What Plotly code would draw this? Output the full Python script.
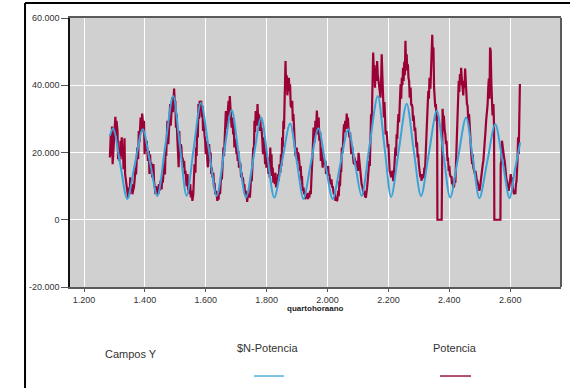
import plotly.graph_objects as go

# ---- Data ----
pred_x = [1285, 1296, 1319, 1342, 1367, 1393, 1417, 1441, 1467, 1493, 1515, 1537,
          1560, 1584, 1610, 1636, 1660, 1685, 1708, 1732, 1757, 1782, 1803, 1825,
          1851, 1877, 1899, 1921, 1945, 1970, 1993, 2017, 2042, 2068, 2090, 2112,
          2138, 2165, 2187, 2209, 2234, 2260, 2283, 2307, 2333, 2359, 2381, 2403,
          2429, 2455, 2477, 2499, 2525, 2551, 2575, 2598, 2616, 2633]
pred_y = [25000, 27200, 16500, 6200, 16500, 26900, 17000, 7100, 22000, 36800, 22000, 7100,
          21000, 34800, 21000, 7100, 20000, 32600, 19600, 6600, 18500, 30400, 18500, 6600,
          17500, 28600, 17400, 6200, 16700, 27200, 16700, 6200, 16500, 26900, 17000, 7100,
          22000, 36800, 21800, 6800, 20600, 34500, 20800, 7100, 19800, 32400, 19500, 6600,
          18500, 30400, 18500, 6400, 17400, 28400, 17400, 6400, 15000, 23000]

pot_x = [1285, 1288, 1290, 1292, 1294, 1297, 1300, 1303, 1305, 1307, 1310, 1312, 1314, 1316, 1318,
         1320, 1322, 1324, 1326, 1328, 1330, 1333, 1335, 1338, 1340, 1343, 1345, 1347, 1350, 1352,
         1354, 1357, 1359, 1362, 1364, 1367, 1369, 1371, 1373, 1375, 1378, 1380, 1382, 1384, 1386,
         1389, 1391, 1393, 1395, 1397, 1399, 1402, 1404, 1406, 1408, 1410, 1413, 1415, 1417, 1419,
         1421, 1424, 1426, 1428, 1430, 1432, 1435, 1437, 1439, 1441, 1444, 1446, 1448, 1450, 1452,
         1455, 1457, 1459, 1461, 1463, 1466, 1468, 1470, 1472, 1474, 1477, 1479, 1481, 1483, 1485,
         1488, 1490, 1492, 1494, 1496, 1498, 1500, 1502, 1504, 1506, 1508, 1511, 1513, 1515, 1518,
         1520, 1522, 1524, 1527, 1529, 1531, 1533,
         1535, 1537, 1540, 1542, 1545, 1547, 1549, 1551, 1554, 1556, 1559, 1561, 1563, 1566, 1568,
         1570, 1572, 1574, 1576, 1578, 1580, 1582, 1585, 1587, 1589, 1591, 1593, 1596, 1598, 1600,
         1603, 1605, 1607, 1609, 1611, 1614, 1616, 1618, 1620, 1622, 1625, 1627, 1629, 1631, 1634,
         1636, 1638, 1640, 1642, 1644, 1647, 1649, 1651, 1653, 1655, 1658, 1660, 1662, 1664, 1666,
         1668, 1671, 1673, 1675, 1677, 1679, 1681, 1683, 1685, 1688, 1690, 1692, 1694, 1696, 1698,
         1701, 1703, 1705, 1707, 1709, 1712, 1714, 1716, 1718, 1720, 1722, 1725, 1727, 1729, 1731,
         1734, 1736, 1738, 1740, 1743, 1745, 1747, 1749, 1751, 1754, 1756, 1758, 1760, 1762, 1764,
         1766, 1768, 1770, 1772, 1775, 1777, 1779, 1781, 1783, 1786, 1788, 1790, 1792, 1795, 1797,
         1799, 1801, 1803, 1806, 1808,
         1810, 1812, 1814, 1816, 1818, 1820, 1822, 1824, 1827, 1829, 1831, 1834, 1836, 1838, 1840,
         1842, 1845, 1847, 1849, 1851, 1853, 1855, 1857, 1860, 1862, 1864, 1866, 1868, 1871, 1873,
         1875, 1877, 1879, 1882, 1884, 1886, 1888, 1890, 1892, 1894, 1897, 1899, 1901, 1903, 1905,
         1907, 1910, 1912, 1914, 1916, 1918, 1921, 1923, 1925, 1927, 1929, 1932, 1934, 1936, 1938,
         1940, 1943, 1945, 1947, 1949, 1951, 1954, 1956, 1958, 1960, 1962, 1965, 1967, 1969, 1971,
         1973, 1976, 1978, 1980, 1982, 1984, 1987, 1989, 1991, 1993, 1995, 1998, 2000, 2002, 2004,
         2006, 2009, 2011, 2013, 2015, 2017, 2019, 2021, 2024, 2026, 2028, 2030, 2032, 2035, 2037,
         2039, 2041, 2043, 2045, 2047, 2050, 2052, 2054, 2056, 2058, 2061, 2063, 2065, 2067, 2069,
         2072, 2074, 2076, 2078, 2080, 2083, 2085, 2087, 2089, 2091, 2094, 2096, 2098, 2100, 2102,
         2104, 2106, 2108, 2110, 2112, 2115, 2117, 2119, 2121, 2123, 2126, 2128, 2130, 2132, 2134,
         2137, 2139, 2141, 2143, 2145, 2147, 2149, 2150, 2152, 2154, 2156, 2158, 2160, 2163, 2165,
         2167, 2169, 2172, 2174, 2176, 2178, 2180, 2182, 2185, 2187, 2189, 2191, 2194, 2196, 2198,
         2200, 2202, 2204, 2207, 2209, 2211, 2213, 2216, 2218, 2220, 2223, 2225, 2227, 2229, 2231,
         2233, 2235, 2238, 2240, 2242, 2244, 2246, 2248, 2250, 2252, 2254, 2256, 2258, 2260, 2262,
         2264, 2266, 2268, 2270, 2273, 2275, 2277, 2279, 2281, 2283, 2286, 2288, 2290, 2292, 2294,
         2296, 2298, 2300, 2303, 2305, 2307, 2309, 2311, 2313, 2316, 2318, 2320, 2322, 2324, 2327,
         2329, 2331, 2333, 2335, 2338, 2340, 2342, 2344, 2346, 2348, 2350, 2352, 2354, 2356, 2358,
         2360, 2361, 2375, 2376, 2378, 2380, 2382, 2385, 2387, 2389, 2391, 2394, 2396, 2398, 2400,
         2402, 2405, 2407, 2409, 2411, 2413, 2416, 2418, 2420, 2422, 2424, 2427, 2429, 2431, 2433,
         2435, 2437, 2439, 2441, 2444, 2446, 2448, 2450, 2452, 2454, 2456, 2458, 2460, 2463, 2465,
         2467, 2469, 2471, 2473, 2475, 2477, 2479, 2482, 2484, 2486, 2488, 2490, 2492, 2495, 2497,
         2499, 2501, 2503, 2505, 2508, 2510, 2512, 2514, 2517, 2519, 2521, 2524, 2526, 2528, 2530,
         2532, 2534, 2536, 2538, 2540, 2542, 2545, 2547, 2548, 2568, 2569, 2571, 2573, 2575, 2578,
         2580, 2582, 2584, 2587, 2589, 2591, 2593, 2595, 2597, 2599, 2602, 2604, 2606, 2608, 2610,
         2613, 2615, 2617, 2619, 2621, 2624, 2626, 2628, 2630, 2632]
pot_y = [18500, 25500, 19000, 27700, 16500, 22000, 27000, 30600, 25000, 29400, 26400, 18000, 21000, 17500, 19500,
         23500, 19000, 24500, 18000, 21000, 15000, 24200, 13600, 11600, 9600, 7000, 6600, 9600, 7600, 12600,
         8600, 10600, 7600, 9000, 9600, 12500, 15600, 13500, 19500, 21500, 18000, 26400, 23000, 27400, 30400,
         26000, 31600, 29400, 26400, 29400, 19500, 24000, 20500, 23500, 19500, 17500, 20500, 13600, 19500, 15500,
         17000, 12600, 14500, 16600, 11600, 9600, 7600, 10000, 8600, 9600, 7600, 10600, 8600, 10600, 11600,
         9000, 12600, 11000, 14600, 16500, 13500, 21500, 19000, 25400, 29400, 22500, 26400, 31000, 34400, 28000,
         35000, 36400, 32000, 38400, 39000, 35000, 35400, 27400, 31500, 25400, 22000, 15600, 26400, 19500, 22500,
         21500, 18000, 18500, 15500, 17500, 13600, 14600,
         12600, 10000, 13600, 8600, 9600, 7600, 10600, 6600, 8600, 5600, 7600, 12600, 16500, 14000, 21500,
         19000, 28400, 24500, 34400, 30000, 35400, 33000, 35400, 30500, 34000, 26400, 29400, 25000, 23500, 19500,
         23500, 18000, 15600, 19000, 22500, 17500, 20000, 13600, 15500, 12600, 14000, 9600, 11000, 7600, 8600,
         7600, 5600, 7000, 6000, 9600, 7600, 11000, 13600, 12000, 15600, 21500, 19000, 25400, 29400, 32300,
         27000, 29400, 33000, 35400, 31000, 36800, 33400, 29400, 27400, 30400, 25400, 28000, 21500, 24000, 23500,
         19500, 21000, 17500, 20500, 15500, 17000, 16500, 12600, 14000, 11600, 12600, 9600, 10500, 7600, 8600,
         7600, 5300, 7000, 6600, 8000, 6600, 9600, 13600, 11500, 16500, 21500, 20000, 29400, 26000, 32300,
         29400, 28000, 34400, 30000, 31400, 26400, 30400, 27000, 27400, 23500, 19500, 24500, 22500, 16500, 21500,
         15500, 17500, 18500, 13600, 16000,
         12600, 21500, 14500, 19500, 13000, 15500, 11000, 13600, 10600, 14000, 9600, 12600, 10600, 13600, 11600,
         16500, 14000, 19500, 16000, 24500, 21500, 29400, 27000, 43200, 47200, 39300, 43000, 37000, 41300, 42200,
         38300, 40300, 34000, 33400, 35400, 29400, 31400, 27000, 24500, 19500, 18500, 21500, 17500, 20000, 19500,
         17500, 14500, 16000, 11600, 13000, 8600, 9600, 7600, 8500, 6100, 7000, 6600, 8000, 6100, 7600,
         6600, 8600, 7600, 12000, 14500, 19500, 27400, 23000, 23500, 29400, 26000, 32500, 27400, 25400, 30400,
         23500, 26000, 17500, 21500, 19500, 15500, 18500, 17500, 16500, 17500, 13600, 15500, 14500, 16000, 13000,
         13600, 11000, 10600, 12000, 9600, 10000, 8600, 7600, 8000, 5600, 6600, 5600, 5800, 8600, 7000,
         11600, 10000, 14500, 14500, 21500, 20000, 25400, 28400, 26000, 29400, 27000, 31600, 29000, 30400, 27000,
         24500, 26000, 21500, 19500, 22000, 20500, 17500, 16500, 18500, 17500, 15500, 17500, 16500, 14500, 19900,
         17500, 15500, 13600, 12000, 10600, 9600, 8600, 7600, 8600, 7000, 6600, 7600, 9600, 11500, 13600,
         17500, 16000, 24500, 31400, 28000, 39300, 44000, 49700, 44300, 46000, 39300, 45200, 41300, 47200, 43300,
         42000, 39300, 37300, 36300, 41000, 49200, 43300, 38300, 30400, 35000, 29400, 25400, 26400, 23500, 21500,
         22500, 17500, 14500, 13600, 12600, 13600, 14600, 11500, 13600, 16500, 21500, 19000, 25400, 24000, 28400,
         31400, 29000, 37300, 40300, 36000, 42200, 40000, 45200, 41300, 47000, 43000, 53200, 46000, 49200, 44300,
         46200, 42200, 41300, 36300, 39300, 34000, 34400, 33400, 29400, 31000, 26400, 27400, 23500, 21500, 23000,
         18500, 19500, 16500, 14600, 12600, 13000, 11600, 13600, 12600, 12600, 15500, 14000, 19500, 22000, 29400,
         33400, 38300, 36000, 42200, 39000, 47200, 51000, 55000, 48000, 51200, 39300, 37300, 33400, 34400, 29400,
         31000, 0, 0, 31400, 33000, 29400, 31000, 26400, 25400, 22500, 23500, 17500, 18500, 14500, 16000,
         13600, 12600, 13000, 10600, 11600, 9600, 10000, 12600, 11000, 16500, 21500, 31400, 39300, 41300, 38000,
         43300, 40000, 45200, 42000, 38300, 37000, 41300, 39300, 45000, 39300, 36300, 34400, 34000, 28400, 31400,
         26400, 25400, 21500, 18500, 16500, 19500, 15500, 14500, 13600, 14500, 12600, 12000, 11600, 10600, 9600,
         8600, 9600, 11500, 13600, 15500, 16500, 17500, 19500, 22500, 26400, 29400, 31400, 34400, 39300, 42000,
         36000, 51200, 50200, 41300, 34400, 31000, 34400, 28000, 0, 0, 16500, 17500, 23500, 21500, 19500,
         18500, 17500, 14600, 12600, 11600, 10600, 9600, 8600, 9600, 11500, 13600, 11600, 12600, 9600, 8600,
         7600, 8600, 7600, 10600, 11600, 17500, 24500, 19500, 28000, 40400]

x_tickvals = [1200, 1400, 1600, 1800, 2000, 2200, 2400, 2600]
x_ticktext = ["1.200", "1.400", "1.600", "1.800", "2.000", "2.200", "2.400", "2.600"]
y_tickvals = [-20000, 0, 20000, 40000, 60000]
y_ticktext = ["-20.000", "0", "20.000", "40.000", "60.000"]

BLUE = "#3ba3d8"
RED = "#9b0036"
FONT = "Liberation Sans, Arial, sans-serif"

fig = go.Figure()
fig.add_trace(go.Scatter(x=pot_x, y=pot_y, mode="lines", name="Potencia",
                         line=dict(color=RED, width=2.2), showlegend=False))
fig.add_trace(go.Scatter(x=pred_x, y=pred_y, mode="lines", name="$N-Potencia",
                         line=dict(color=BLUE, width=2, shape="spline", smoothing=0.9),
                         showlegend=False))

fig.update_layout(
    width=570, height=388,
    margin=dict(l=70, r=9, t=18, b=101),
    paper_bgcolor="white",
    plot_bgcolor="#d0d0d0",
    font=dict(family=FONT, size=9, color="#333333"),
    showlegend=False,
)
fig.update_xaxes(range=[1154, 2767], tickvals=x_tickvals, ticktext=x_ticktext,
                 showgrid=True, gridcolor="white", gridwidth=1, zeroline=False,
                 showline=True, linecolor="#5a5a5a", linewidth=2, mirror=True,
                 ticks="outside", ticklen=3, tickcolor="#555555",
                 tickfont=dict(family=FONT, size=9, color="#333333"))
fig.update_yaxes(range=[-20000, 60000], tickvals=y_tickvals, ticktext=y_ticktext,
                 showgrid=True, gridcolor="white", gridwidth=1, zeroline=False,
                 showline=True, linecolor="#111111", linewidth=1.5,
                 ticks="outside", ticklen=7, tickcolor="#555555",
                 tickfont=dict(family=FONT, size=9, color="#333333"))

# plot frame right edge and outer frame
fig.add_shape(type="line", xref="paper", yref="paper", x0=1, x1=1, y0=0, y1=1,
              line=dict(color="#5a5a5a", width=2))
fig.add_shape(type="line", xref="paper", yref="paper", x0=-0.0916, x1=-0.0916, y0=1.056, y1=-0.40,
              line=dict(color="black", width=2))
fig.add_shape(type="line", xref="paper", yref="paper", x0=-0.0916, x1=1.03, y0=1.056, y1=1.056,
              line=dict(color="black", width=2))

# axis title
fig.add_annotation(text="<b>quartohoraano</b>", xref="paper", yref="paper", x=0.499, y=-0.08,
                   showarrow=False, font=dict(family=FONT, size=8, color="#222222"),
                   xanchor="center", yanchor="middle")
# legend block
fig.add_annotation(text="Campos Y", xref="paper", yref="paper", x=0.124, y=-0.249,
                   showarrow=False, font=dict(family=FONT, size=11, color="#333333"),
                   xanchor="center", yanchor="middle")
fig.add_annotation(text="$N-Potencia", xref="paper", yref="paper", x=0.403, y=-0.227,
                   showarrow=False, font=dict(family=FONT, size=11, color="#333333"),
                   xanchor="center", yanchor="middle")
fig.add_annotation(text="Potencia", xref="paper", yref="paper", x=0.784, y=-0.227,
                   showarrow=False, font=dict(family=FONT, size=11, color="#333333"),
                   xanchor="center", yanchor="middle")
fig.add_shape(type="line", xref="paper", yref="paper", x0=0.3747, x1=0.4358, y0=-0.331, y1=-0.331,
              line=dict(color="#7cc2e6", width=2))
fig.add_shape(type="line", xref="paper", yref="paper", x0=0.7536, x1=0.8167, y0=-0.331, y1=-0.331,
              line=dict(color="#b0506e", width=2))

fig.write_html("out.html", config={"displayModeBar": False},
               post_script="document.body.style.margin='0';document.body.style.padding='0';")
